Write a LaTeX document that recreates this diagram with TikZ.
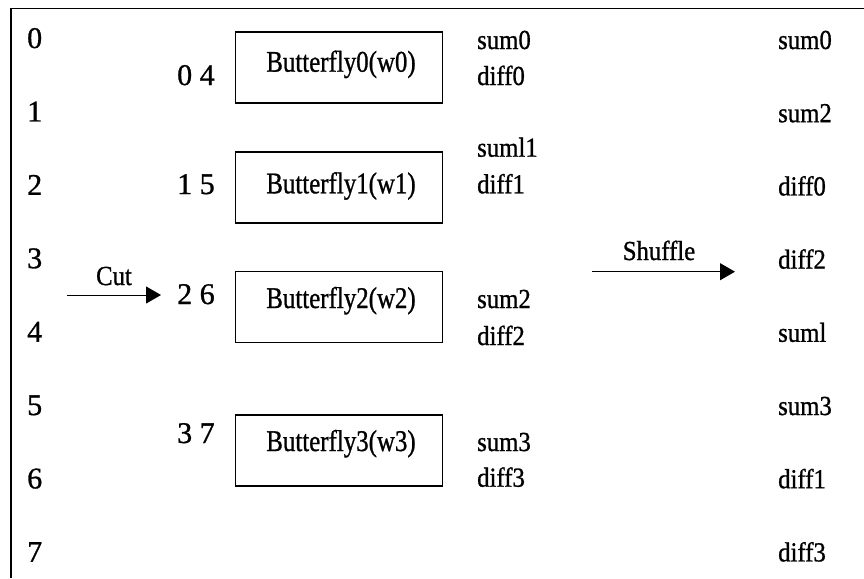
\documentclass[tikz,border=0pt]{standalone}
\usepackage{fontspec}
\setmainfont[FakeBold=1]{Liberation Serif}
\usetikzlibrary{arrows.meta}
\newcommand{\narrowtext}[2]{\scalebox{#1}[1]{#2}}
\begin{document}
\begin{tikzpicture}[x=1pt,y=-1pt,
  num/.style={anchor=base west,inner sep=0pt,font=\fontsize{30}{34}\selectfont},
  word/.style={anchor=base west,inner sep=0pt,font=\fontsize{27.5}{30}\selectfont},
  bfly/.style={draw,line width=1.2pt,minimum width=207pt,minimum height=71pt,inner sep=0pt},
  blabel/.style={anchor=base,inner sep=0pt,font=\fontsize{30}{32}\selectfont},
  flow/.style={line width=1pt,-{Triangle[length=15pt,width=17pt]}}]
\useasboundingbox (0,0) rectangle (864,578);
% open frame: left and top edges
\draw[line width=1.5pt] (11,578) -- (11,8.5) -- (864,8.5);

% input indices
\foreach \i in {0,...,7}
  \node[num] (in\i) at (27,{48+\i*73.4}) {\i};

% butterfly units
\node[bfly] (b0) at (339,67.5) {};
\node[bfly] (b1) at (339,187.5) {};
\node[bfly] (b2) at (339,307) {};
\node[bfly] (b3) at (339,450.5) {};
\node[blabel] (bl0) at (341,71.7) {\narrowtext{0.83}{Butterfly0(w0)}};
\node[blabel] (bl1) at (341,193.3) {\narrowtext{0.83}{Butterfly1(w1)}};
\node[blabel] (bl2) at (341,308) {\narrowtext{0.83}{Butterfly2(w2)}};
\node[blabel] (bl3) at (341,451) {\narrowtext{0.83}{Butterfly3(w3)}};

% index pairs fed to each unit
\node[num] (p0) at (177,85) {0 4};
\node[num] (p1) at (177,194) {1 5};
\node[num] (p2) at (177,304) {2 6};
\node[num] (p3) at (177,443) {3 7};

% butterfly outputs
\node[word] (s0) at (477,49) {\narrowtext{0.9}{sum0}};
\node[word] (d0) at (477,85) {\narrowtext{0.9}{diff0}};
\node[word] (s1) at (477,156.7) {\narrowtext{0.9}{suml1}};
\node[word] (d1) at (477,193.3) {\narrowtext{0.9}{diff1}};
\node[word] (s2) at (477,308) {\narrowtext{0.9}{sum2}};
\node[word] (d2) at (477,345) {\narrowtext{0.9}{diff2}};
\node[word] (s3) at (477,451) {\narrowtext{0.9}{sum3}};
\node[word] (d3) at (477,486.7) {\narrowtext{0.9}{diff3}};

% shuffled order
\foreach \t [count=\k from 0] in {sum0,sum2,diff0,diff2,suml,sum3,diff1,diff3}
  \node[word] (r\k) at (778,{49+\k*73.2}) {\narrowtext{0.9}{\t}};

% stage arrows
\coordinate (cutA) at (67,295);
\coordinate (cutB) at (161,295);
\draw[flow] (cutA) -- (cutB);
\node[word,anchor=base] (cut) at (114,285) {\narrowtext{0.9}{Cut}};
\coordinate (shA) at (592,271.7);
\coordinate (shB) at (735,271.7);
\draw[flow] (shA) -- (shB);
\node[word,anchor=base] (sh) at (659,260) {\narrowtext{0.9}{Shuffle}};
\end{tikzpicture}
\end{document}
